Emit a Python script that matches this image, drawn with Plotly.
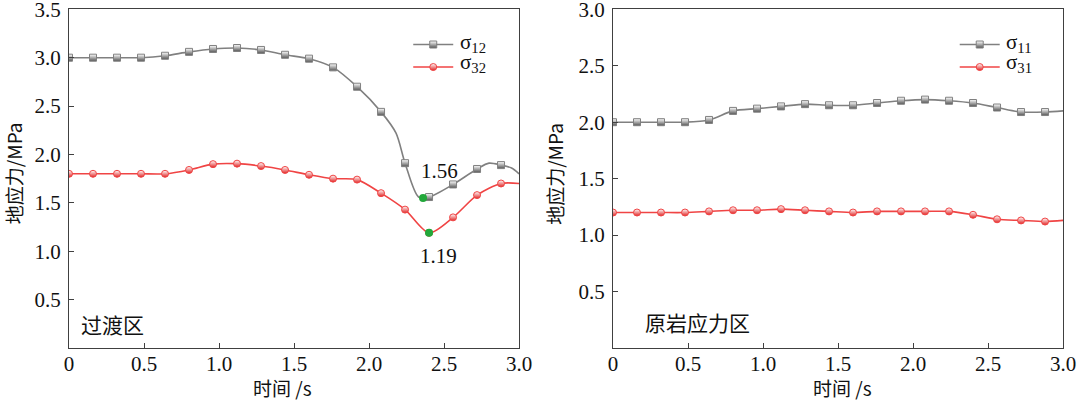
import plotly.graph_objects as go

# ---------------- data ----------------
x_marks = [0.00, 0.16, 0.32, 0.48, 0.64, 0.80, 0.96, 1.12, 1.28, 1.44,
           1.60, 1.76, 1.92, 2.08, 2.24, 2.40, 2.56, 2.72, 2.88]

# left panel (过渡区)
s12_marks = [3.00, 3.00, 3.00, 3.00, 3.02, 3.06, 3.09, 3.10, 3.08, 3.03,
             2.99, 2.90, 2.70, 2.44, 1.91, 1.56, 1.69, 1.85, 1.89]
s32_marks = [1.80, 1.80, 1.80, 1.80, 1.80, 1.84, 1.90, 1.905, 1.88, 1.84,
             1.79, 1.75, 1.74, 1.60, 1.43, 1.19, 1.35, 1.58, 1.70]

s12_line_x = [0.00, 0.16, 0.32, 0.48, 0.64, 0.80, 0.96, 1.12, 1.28, 1.44,
              1.60, 1.76, 1.92, 2.08, 2.18, 2.24, 2.33, 2.40, 2.56, 2.72, 2.80, 2.88, 2.95, 3.00]
s12_line_y = [3.00, 3.00, 3.00, 3.00, 3.02, 3.06, 3.09, 3.10, 3.08, 3.03,
              2.99, 2.90, 2.70, 2.44, 2.22, 1.91, 1.56, 1.56, 1.69, 1.85, 1.91, 1.89, 1.86, 1.80]
s32_line_x = x_marks + [3.00]
s32_line_y = s32_marks + [1.70]

min_x = [2.36, 2.40]
min_y = [1.55, 1.19]
min_labels = ["1.56", "1.19"]

# right panel (原岩应力区)
s11_marks = [2.00, 2.00, 2.00, 2.00, 2.02, 2.10, 2.12, 2.14, 2.16, 2.15,
             2.15, 2.17, 2.19, 2.20, 2.19, 2.17, 2.13, 2.09, 2.09]
s31_marks = [1.20, 1.20, 1.20, 1.20, 1.21, 1.22, 1.22, 1.23, 1.22, 1.21,
             1.20, 1.21, 1.21, 1.21, 1.21, 1.18, 1.14, 1.13, 1.12]
s11_line_x = x_marks + [3.00]
s11_line_y = s11_marks + [2.10]
s31_line_x = x_marks + [3.00]
s31_line_y = s31_marks + [1.13]

legend_left = ["σ<sub>12</sub>", "σ<sub>32</sub>"]
legend_right = ["σ<sub>11</sub>", "σ<sub>31</sub>"]

x_ticks = [0, 0.5, 1.0, 1.5, 2.0, 2.5, 3.0]
x_tick_text = ["0", "0.5", "1.0", "1.5", "2.0", "2.5", "3.0"]
yl_ticks = [0.5, 1.0, 1.5, 2.0, 2.5, 3.0, 3.5]
yr_ticks = [0.5, 1.0, 1.5, 2.0, 2.5, 3.0]

# ---------------- style ----------------
GRAY = "#808080"
GRAY_D = "#555555"
RED = "#f04444"
RED_D = "#e02424"
GREEN = "#22a83a"
SERIF = "Liberation Serif, Times New Roman, serif"
CJK = "Noto Sans CJK SC, sans-serif"
FS = 21

fig = go.Figure()


def marker_style(color, mcolor, symbol):
    return dict(symbol=symbol, size=7, color="white",
                gradient=dict(type="vertical", color=mcolor),
                line=dict(color=color, width=1))


def add_series(xl, yl, xm, ym, color, mcolor, symbol, xa, ya, legend):
    fig.add_trace(go.Scatter(
        x=xl, y=yl, mode="lines", line=dict(color=color, width=1.6, shape="spline", smoothing=0.8),
        xaxis=xa, yaxis=ya, showlegend=False, hoverinfo="skip"))
    fig.add_trace(go.Scatter(
        x=xm, y=ym, mode="markers", showlegend=False,
        marker=marker_style(color, mcolor, symbol), xaxis=xa, yaxis=ya))
    # legend sample (line + marker); its label is drawn as an annotation
    fig.add_trace(go.Scatter(
        x=[None], y=[None], mode="lines+markers", name=" ",
        line=dict(color=color, width=1.6), marker=marker_style(color, mcolor, symbol),
        xaxis=xa, yaxis=ya, legend=legend))


add_series(s12_line_x, s12_line_y, x_marks, s12_marks, GRAY, GRAY_D, "square", "x", "y", "legend")
add_series(s32_line_x, s32_line_y, x_marks, s32_marks, RED, RED_D, "circle", "x", "y", "legend")
add_series(s11_line_x, s11_line_y, x_marks, s11_marks, GRAY, GRAY_D, "square", "x2", "y2", "legend2")
add_series(s31_line_x, s31_line_y, x_marks, s31_marks, RED, RED_D, "circle", "x2", "y2", "legend2")

fig.add_trace(go.Scatter(x=min_x, y=min_y, mode="markers", showlegend=False,
                         marker=dict(color=GREEN, size=8), xaxis="x", yaxis="y"))

# legend labels
for lx, labels in [(0.424, legend_left), (0.930, legend_right)]:
    for ly, t in zip([0.894, 0.843], labels):
        fig.add_annotation(x=lx, y=ly, xref="paper", yref="paper", text=t, showarrow=False,
                           xanchor="left", yanchor="middle",
                           font=dict(family=SERIF, size=21, color="#111"))

# annotations for minima
fig.add_annotation(x=2.47, y=1.83, text=min_labels[0], showarrow=False, xref="x", yref="y",
                   font=dict(family=SERIF, size=FS, color="#111"))
fig.add_annotation(x=2.46, y=0.95, text=min_labels[1], showarrow=False, xref="x", yref="y",
                   font=dict(family=SERIF, size=FS, color="#111"))
# zone labels
fig.add_annotation(x=0.065, y=0.25, text="过渡区", showarrow=False, xref="x", yref="y",
                   xanchor="left", yanchor="middle",
                   font=dict(family=CJK, size=FS, color="#111"))
fig.add_annotation(x=0.20, y=0.23, text="原岩应力区", showarrow=False, xref="x2", yref="y2",
                   xanchor="left", yanchor="middle",
                   font=dict(family=CJK, size=FS, color="#111"))

# axis titles
for cx, cy in [(0.262, 0.04), (0.78, 0.04)]:
    fig.add_annotation(x=cx, y=cy, xref="paper", yref="paper", text="时间 /s", showarrow=False,
                       xanchor="center", yanchor="middle",
                       font=dict(family=CJK, size=19, color="#111"))
for cx in [0.0125, 0.514]:
    fig.add_annotation(x=cx, y=0.57, xref="paper", yref="paper", text="地应力/MPa", showarrow=False,
                       xanchor="center", yanchor="middle",
                       textangle=-90, font=dict(family=CJK, size=19, color="#111"))

axis_common = dict(showline=True, linecolor="#404040", linewidth=1.2, mirror=True,
                   ticks="inside", ticklen=5, tickcolor="#404040", showgrid=False, zeroline=False,
                   ticklabeloverflow="allow", automargin=False,
                   tickfont=dict(family=SERIF, size=FS, color="#111"))

legend_common = dict(xanchor="left", yanchor="top", bgcolor="rgba(0,0,0,0)", itemwidth=40,
                     font=dict(family=SERIF, size=15, color="#111"), tracegroupgap=0)

ydom = [0.1386, 0.977]
fig.update_layout(
    width=1080, height=404, margin=dict(l=0, r=0, t=0, b=0, autoexpand=False),
    paper_bgcolor="white", plot_bgcolor="white",
    xaxis=dict(domain=[0.0639, 0.4806], range=[0, 3.0], tickvals=x_ticks, ticktext=x_tick_text,
               anchor="y", ticklabelstandoff=-3, **axis_common),
    yaxis=dict(domain=ydom, range=[0, 3.5], tickvals=yl_ticks, tickformat=".1f", anchor="x",
               ticklabelstandoff=3, **axis_common),
    xaxis2=dict(domain=[0.5676, 0.9843], range=[0, 3.0], tickvals=x_ticks, ticktext=x_tick_text,
                anchor="y2", ticklabelstandoff=-3, **axis_common),
    yaxis2=dict(domain=ydom, range=[0, 3.0], tickvals=yr_ticks, tickformat=".1f", anchor="x2",
                ticklabelstandoff=3, **axis_common),
    legend=dict(x=0.378, y=0.93, **legend_common),
    legend2=dict(x=0.884, y=0.93, **legend_common),
)

fig.write_html("out.html", config={"displayModeBar": False},
               post_script="document.body.style.margin='0';")
